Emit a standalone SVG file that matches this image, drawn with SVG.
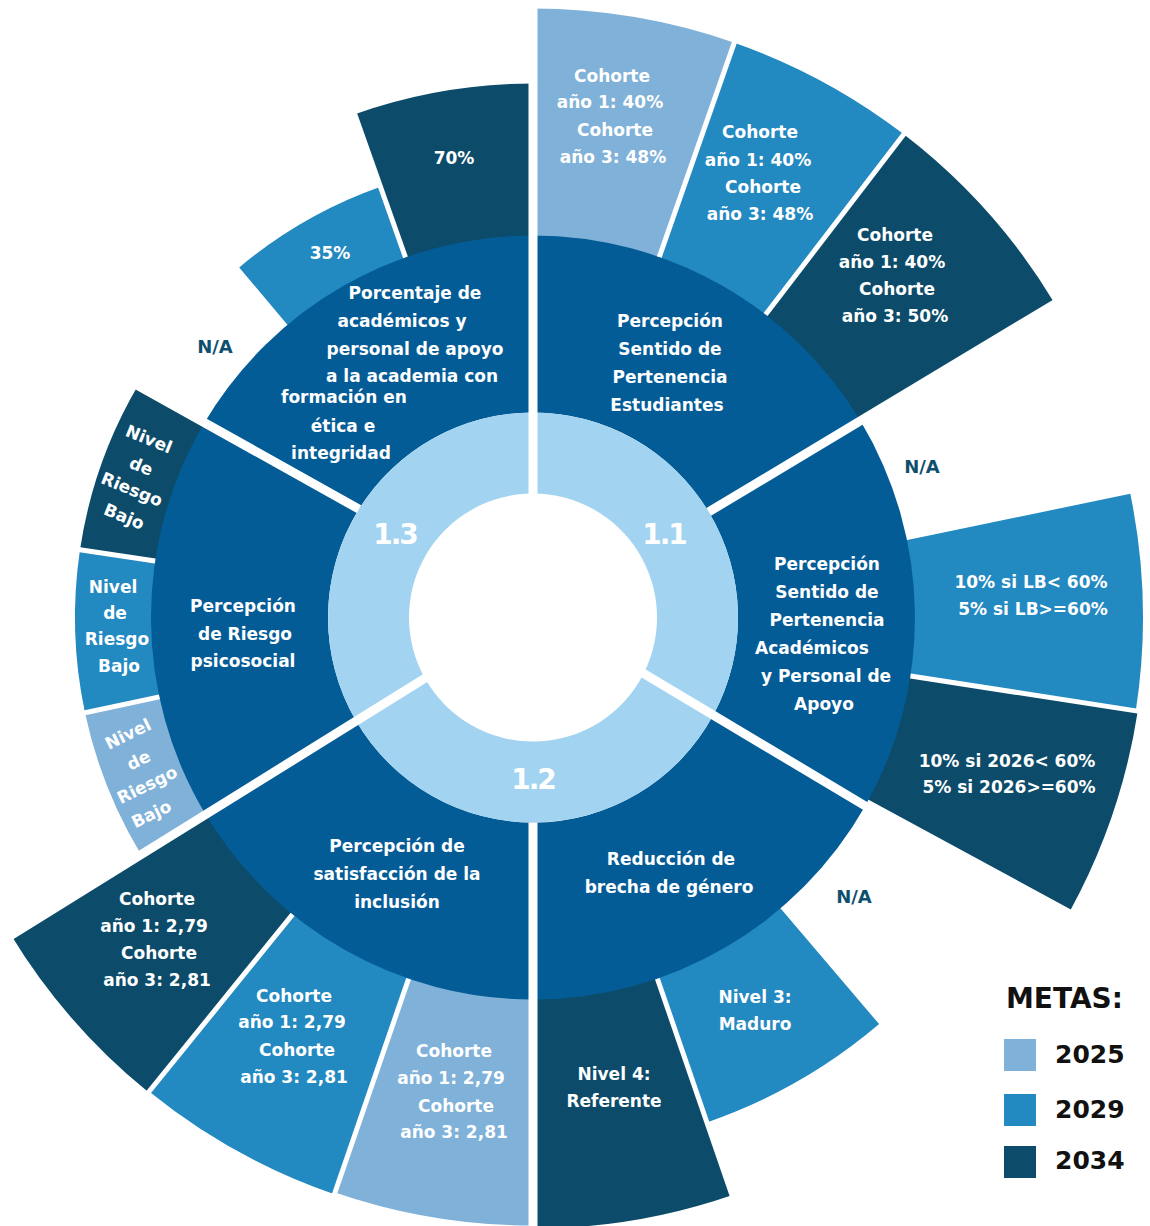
<svg xmlns="http://www.w3.org/2000/svg" width="1150" height="1226" viewBox="0 0 1150 1226">
<style>
.t{font-family:"DejaVu Sans","Liberation Sans",sans-serif;font-weight:bold;font-size:17px;fill:#ffffff;text-anchor:middle}
.na{font-family:"DejaVu Sans","Liberation Sans",sans-serif;font-weight:bold;font-size:18px;fill:#0e4f6e;text-anchor:middle}
.num{font-family:"DejaVu Sans","Liberation Sans",sans-serif;font-weight:bold;font-size:28px;fill:#ffffff;text-anchor:middle;letter-spacing:-2px}
.lg{font-family:"DejaVu Sans","Liberation Sans",sans-serif;font-weight:bold;fill:#111111}
.c25{fill:#80b1d8}
.c29{fill:#2389c1}
.c34{fill:#0c4c6a}
.mid{fill:#045c97}
.inn{fill:#a2d4f1}
.gap{stroke:#ffffff;stroke-width:9;fill:none}
.gap2{stroke:#ffffff;stroke-width:5;fill:none}
</style>
<rect width="1150" height="1226" fill="#ffffff"/>

<!-- Outer ring: metas -->
<g id="o-1-1a-2025"><path class="c25" d="M533,242.5 L533,8.5 A609 609 0 0 1 734.3,42.7 L656.9,263.6 A375 375 0 0 0 533,242.5Z"/>
<text class="t" x="612" y="82">Cohorte</text><text class="t" x="610" y="108">año 1: 40%</text><text class="t" x="615" y="136">Cohorte</text><text class="t" x="613" y="163">año 3: 48%</text></g>
<g id="o-1-1a-2029"><path class="c29" d="M656.9,263.6 L734.3,42.7 A609 609 0 0 1 903.8,134.3 L761.3,320 A375 375 0 0 0 656.9,263.6Z"/>
<text class="t" x="760" y="138">Cohorte</text><text class="t" x="758" y="166">año 1: 40%</text><text class="t" x="763" y="193">Cohorte</text><text class="t" x="760" y="220">año 3: 48%</text></g>
<g id="o-1-1a-2034"><path class="c34" d="M761.3,320 L903.8,134.3 A609 609 0 0 1 1055,303.9 L854.5,424.4 A375 375 0 0 0 761.3,320Z"/>
<text class="t" x="895" y="241">Cohorte</text><text class="t" x="892" y="268">año 1: 40%</text><text class="t" x="897" y="295">Cohorte</text><text class="t" x="895" y="322">año 3: 50%</text></g>

<g id="o-1-1b-2025"><text class="na" x="922" y="473">N/A</text></g>
<g id="o-1-1b-2029"><path class="c29" d="M900.2,541.4 L1130.3,493.8 A610 610 0 0 1 1135.8,710.8 L903.6,674.9 A375 375 0 0 0 900.2,541.4Z"/>
<text class="t" x="1031" y="588">10% si LB&lt; 60%</text><text class="t" x="1033" y="615">5% si LB&gt;=60%</text></g>
<g id="o-1-1b-2034"><path class="c34" d="M903.6,674.9 L1137.8,711.1 A612 612 0 0 1 1070.8,909.5 L862.6,796.5 A375 375 0 0 0 903.6,674.9Z"/>
<text class="t" x="1007" y="767">10% si 2026&lt; 60%</text><text class="t" x="1009" y="793">5% si 2026&gt;=60%</text></g>

<g id="o-1-2a-2025"><text class="na" x="854" y="903">N/A</text></g>
<g id="o-1-2a-2029"><path class="c29" d="M776,903.1 L879.1,1024.1 A534 534 0 0 1 706.9,1122.4 L655.1,972.1 A375 375 0 0 0 776,903.1Z"/>
<text class="t" x="755" y="1003">Nivel 3:</text><text class="t" x="755" y="1030">Maduro</text></g>
<g id="o-1-2a-2034"><path class="c34" d="M655.1,972.1 L731.9,1195.2 A611 611 0 0 1 533,1228.5 L533,992.5 A375 375 0 0 0 655.1,972.1Z"/>
<text class="t" x="614" y="1080">Nivel 4:</text><text class="t" x="614" y="1107">Referente</text></g>

<g id="o-1-2b-2025"><path class="c25" d="M533,992.5 L533,1225.5 A608 608 0 0 1 335,1192.4 L410.9,972.1 A375 375 0 0 0 533,992.5Z"/>
<text class="t" x="454" y="1057">Cohorte</text><text class="t" x="451" y="1084">año 1: 2,79</text><text class="t" x="456" y="1112">Cohorte</text><text class="t" x="454" y="1138">año 3: 2,81</text></g>
<g id="o-1-2b-2029"><path class="c29" d="M410.9,972.1 L334.4,1194.3 A610 610 0 0 1 149.1,1091.5 L297,908.9 A375 375 0 0 0 410.9,972.1Z"/>
<text class="t" x="294" y="1002">Cohorte</text><text class="t" x="292" y="1028">año 1: 2,79</text><text class="t" x="297" y="1056">Cohorte</text><text class="t" x="294" y="1083">año 3: 2,81</text></g>
<g id="o-1-2b-2034"><path class="c34" d="M297,908.9 L148.5,1092.3 A611 611 0 0 1 11,935 L211.5,810.7 A375 375 0 0 0 297,908.9Z"/>
<text class="t" x="157" y="905">Cohorte</text><text class="t" x="154" y="932">año 1: 2,79</text><text class="t" x="159" y="959">Cohorte</text><text class="t" x="157" y="986">año 3: 2,81</text></g>

<g id="o-1-3a-2025"><path class="c25" d="M211.5,810.7 L141,854.4 A458 458 0 0 1 85,712.7 L166.2,695.5 A375 375 0 0 0 211.5,810.7Z"/>
<g transform="translate(128,734) rotate(-26)"><text class="t" x="0" y="6">Nivel</text><text class="t" x="-2" y="34">de</text><text class="t" x="-5" y="60">Riesgo</text><text class="t" x="-14" y="88">Bajo</text></g></g>
<g id="o-1-3a-2029"><path class="c29" d="M166.2,695.5 L85,712.7 A458 458 0 0 1 80,549.8 L162.1,562.1 A375 375 0 0 0 166.2,695.5Z"/>
<text class="t" x="113" y="593">Nivel</text><text class="t" x="115" y="619">de</text><text class="t" x="117" y="645">Riesgo</text><text class="t" x="119" y="672">Bajo</text></g>
<g id="o-1-3a-2034"><path class="c34" d="M162.1,562.1 L80,549.8 A458 458 0 0 1 138,385.6 L210.5,426.1 A375 375 0 0 0 162.1,562.1Z"/>
<g transform="translate(149,439) rotate(22)"><text class="t" x="0" y="6">Nivel</text><text class="t" x="3" y="34">de</text><text class="t" x="3" y="59">Riesgo</text><text class="t" x="6" y="87">Bajo</text></g></g>

<g id="o-1-3b-2025"><text class="na" x="215" y="353">N/A</text></g>
<g id="o-1-3b-2029"><path class="c29" d="M292,330.2 L239.2,267.4 A457 457 0 0 1 380.5,186.7 L407.8,264 A375 375 0 0 0 292,330.2Z"/>
<text class="t" x="330" y="259">35%</text></g>
<g id="o-1-3b-2034"><path class="c34" d="M407.8,264 L354.8,114.2 A534 534 0 0 1 533,83.5 L533,242.5 A375 375 0 0 0 407.8,264Z"/>
<text class="t" x="454" y="164">70%</text></g>

<!-- Middle ring: indicators -->
<g id="m-1-1a"><path class="mid" d="M533,235.5 A382 382 0 0 1 860.4,420.8 L708.7,511.9 A205 205 0 0 0 533,412.5Z"/>
<text class="t" x="670" y="327">Percepción</text><text class="t" x="670" y="355">Sentido de</text><text class="t" x="670" y="383">Pertenencia</text><text class="t" x="667" y="411">Estudiantes</text></g>
<g id="m-1-1b"><path class="mid" d="M860.4,420.8 A382 382 0 0 1 865.2,806 L713.3,715.1 A205 205 0 0 0 708.7,511.9Z"/>
<text class="t" x="827" y="570">Percepción</text><text class="t" x="827" y="598">Sentido de</text><text class="t" x="827" y="626">Pertenencia</text><text class="t" x="812" y="654">Académicos</text><text class="t" x="826" y="682">y Personal de</text><text class="t" x="824" y="710">Apoyo</text></g>
<g id="m-1-2a"><path class="mid" d="M865.2,806 A382 382 0 0 1 533,999.5 L533,822.5 A205 205 0 0 0 713.3,715.1Z"/>
<text class="t" x="671" y="865">Reducción de</text><text class="t" x="669" y="893">brecha de género</text></g>
<g id="m-1-2b"><path class="mid" d="M533,999.5 A382 382 0 0 1 205.6,814.4 L356.1,721 A205 205 0 0 0 533,822.5Z"/>
<text class="t" x="397" y="852">Percepción de</text><text class="t" x="397" y="880">satisfacción de la</text><text class="t" x="397" y="908">inclusión</text></g>
<g id="m-1-3a"><path class="mid" d="M205.6,814.4 A382 382 0 0 1 204.4,422.7 L359,509.1 A205 205 0 0 0 356.1,721Z"/>
<text class="t" x="243" y="612">Percepción</text><text class="t" x="245" y="640">de Riesgo</text><text class="t" x="243" y="667">psicosocial</text></g>
<g id="m-1-3b"><path class="mid" d="M204.4,422.7 A382 382 0 0 1 533,235.5 L533,412.5 A205 205 0 0 0 359,509.1Z"/>
<text class="t" x="415" y="299">Porcentaje de</text><text class="t" x="402" y="327">académicos y</text><text class="t" x="415" y="355">personal de apoyo</text><text class="t" x="412" y="382">a la academia con</text><text class="t" x="344" y="403">formación en</text><text class="t" x="343" y="432">ética e</text><text class="t" x="341" y="459">integridad</text></g>

<!-- Inner ring: objectives -->
<g id="i-1-1"><path class="inn" d="M533,412.5 A205 205 0 0 1 713.3,715.1 L643.7,673.4 A124 124 0 0 0 533,493.5Z"/>
<text class="num" x="664" y="544">1.1</text></g>
<g id="i-1-2"><path class="inn" d="M713.3,715.1 A205 205 0 0 1 356.1,721 L424.9,678.3 A124 124 0 0 0 643.7,673.4Z"/>
<text class="num" x="533" y="789">1.2</text></g>
<g id="i-1-3"><path class="inn" d="M356.1,721 A205 205 0 0 1 533,412.5 L533,493.5 A124 124 0 0 0 424.9,678.3Z"/>
<text class="num" x="395" y="544">1.3</text></g>

<!-- Separators -->
<g id="separators">
<path class="gap" d="M533,560 V-5"/>
<path class="gap" d="M533,822.5 V1235"/>
<path class="gap" d="M708.7,511.9 L1068.8,295.6"/>
<path class="gap" d="M600,647.3 L872,810"/>
<path class="gap" d="M470,650.3 L0,942.2"/>
<path class="gap" d="M359,509.1 L127.5,379.7"/>
<path class="gap2" d="M659.3,257 L737.9,32.3"/>
<path class="gap2" d="M765.6,314.4 L910.5,125.6"/>
<path class="gap2" d="M910.5,676 L1145.7,712.4"/>
<path class="gap2" d="M657.4,978.7 L734.9,1203.7"/>
<path class="gap2" d="M408.6,978.7 L331.1,1203.7"/>
<path class="gap2" d="M292.6,914.4 L142.8,1099.3"/>
<path class="gap2" d="M159.4,696.9 L73.3,715.2"/>
<path class="gap2" d="M155.2,561 L68.2,548"/>
<path class="gap2" d="M405.5,257.4 L351.1,103.8"/>
</g>

<!-- Legend -->
<g id="legend">
<text class="lg" x="1006" y="1008" font-size="28">METAS:</text>
<rect class="c25" x="1004" y="1039" width="32" height="32"/>
<text class="lg" x="1055" y="1063" font-size="25">2025</text>
<rect class="c29" x="1004" y="1094" width="32" height="32"/>
<text class="lg" x="1055" y="1118" font-size="25">2029</text>
<rect class="c34" x="1004" y="1146" width="32" height="32"/>
<text class="lg" x="1055" y="1169" font-size="25">2034</text>
</g>
</svg>
